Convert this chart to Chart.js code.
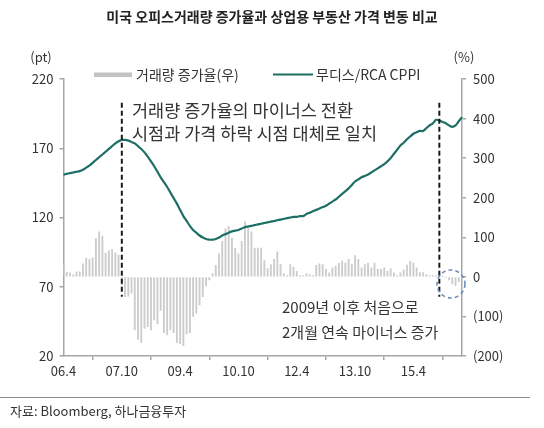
<!DOCTYPE html>
<html>
<head>
<meta charset="utf-8">
<script src="https://cdn.jsdelivr.net/npm/chart.js@4"></script>
<style>
html,body{margin:0;padding:0;background:#fff;}
#wrap{width:544px;height:428px;position:relative;}
</style>
</head>
<body>
<div id="wrap"><canvas id="c"></canvas></div>
<script>
// ---- data ----
const startYear = 2006, startMonth = 4, monthCount = 124;
const months = [];
for (let i = 0; i < monthCount; i++) {
  const m = startMonth - 1 + i;
  const yy = String((startYear + Math.floor(m / 12)) % 100).padStart(2, '0');
  months.push(yy + '.' + (m % 12 + 1));
}
const tickLabels = ['06.4', '07.10', '09.4', '10.10', '12.4', '13.10', '15.4'];

const cppi = [
  151, 151.5, 152, 152.5, 153, 153.5, 154.5,
  156, 157.5, 159.5, 161.5, 163.5,
  165.5, 167.5, 169.5, 171.5, 173.5, 175, 176,
  176, 175.5, 174.5, 173.5, 171.5, 169.5, 167, 164,
  160.5, 157, 153, 149, 145.5, 142,
  138, 134, 130, 125.5, 121,
  117.5, 114, 111, 109, 107, 105.5, 104.5, 104,
  104, 104.5, 105.5, 107,
  108, 109, 110, 110.5, 111, 112, 113, 113.5,
  114, 114.5, 115, 115.5, 116, 116.5, 117,
  117.5, 118, 118.5, 119, 119.5, 120, 120.5, 120.5, 121, 121, 122.5,
  123.5, 124.5, 125.5, 126.5, 127.5, 128.5,
  130, 131.5, 133, 135, 137, 139, 141, 143.5,
  146, 147.5, 149, 150, 151, 152.5,
  154, 155.5, 157, 158.5, 160.5,
  163, 166, 169, 172,
  174, 176.5, 178.5, 180.5,
  181.5, 182.5, 182.5, 184.5, 186.5,
  188, 190.5, 190, 189,
  188, 186.5, 185.5, 186.5, 189.5, 192.5
];

const volumeGrowth = [
  33, 12, 10, 5, 13, 13, 33, 47, 44, 48, 97, 114, 103, 60, 66, 69, 61, 55,
  -20,
  -50, -49, -41, -134, -158, -166, -130, -126, -134, -109, -119, -85, -141,
  -147, -134, -141, -166, -169, -174, -144, -141, -100, -92, -71, -50, -23,
  -8,
  8, 29, 58, 90, 122, 128, 98, 73, 58, 90, 139, 125, 114, 73, 73, 73, 41,
  21, 31, 44, 63, 31, 8, 3, 31, 25, 14, 3, 3, 8, 6, 3, 29, 33,
  31, 19, 10, 23, 27, 34, 40, 35, 44, 31, 54, 44, 23, 31, 35, 23, 35, 19,
  19, 23, 14, 20, 10, 3, 10, 18, 30, 39, 35, 23, 11, 11, 6, 3, 3, 3, 2, 1,
  -2, -8, -18, -22, -12, -4
];

// annotation anchors (category index / axis values)
const markerIdx = [18, 116];
const markerRange = [440, -50];       // right-axis values
const circleAt = {idx: 119.6, val: -18};

const FONT = "'Noto Sans CJK KR', 'Noto Sans', sans-serif";
const TXT = '#333333';
const AXIS = '#a6a6a6';

const deco = {
  id: 'deco',
  afterDatasetsDraw(chart) {
    const ctx = chart.ctx;
    const xs = chart.scales.x, yr = chart.scales.y1;
    ctx.save();
    // dashed markers
    ctx.strokeStyle = '#1a1a1a';
    ctx.lineWidth = 2;
    ctx.setLineDash([5, 3]);
    markerIdx.forEach(i => {
      const x = xs.getPixelForValue(i);
      ctx.beginPath();
      ctx.moveTo(x, yr.getPixelForValue(markerRange[0]));
      ctx.lineTo(x, yr.getPixelForValue(markerRange[1]));
      ctx.stroke();
    });
    // circle
    ctx.strokeStyle = '#6b8fbd';
    ctx.lineWidth = 1.6;
    ctx.setLineDash([4, 3]);
    ctx.beginPath();
    ctx.arc(xs.getPixelForValue(circleAt.idx), yr.getPixelForValue(circleAt.val), 14, 0, Math.PI * 2);
    ctx.stroke();
    ctx.setLineDash([]);
    // annotation texts
    ctx.fillStyle = TXT;
    ctx.textBaseline = 'middle';
    ctx.textAlign = 'left';
    ctx.font = '17.5px ' + FONT;
    ctx.fillText('거래량 증가율의 마이너스 전환', 132, 110);
    ctx.fillText('시점과 가격 하락 시점 대체로 일치', 132, 133);
    ctx.font = '15px ' + FONT;
    ctx.fillText('2009년 이후 처음으로', 282, 307);
    ctx.fillText('2개월 연속 마이너스 증가', 282, 332);
    ctx.restore();
  },
  afterDraw(chart) {
    const ctx = chart.ctx;
    ctx.save();
    ctx.fillStyle = '#222';
    ctx.textBaseline = 'middle';
    ctx.textAlign = 'center';
    ctx.font = 'bold 14px ' + FONT;
    ctx.fillText('미국 오피스거래량 증가율과 상업용 부동산 가격 변동 비교', 272, 17);
    // units
    ctx.fillStyle = TXT;
    ctx.font = '13px ' + FONT;
    ctx.fillText('(pt)', 41, 57);
    ctx.fillText('(%)', 464, 57);
    // legend
    ctx.fillStyle = '#c3c3c3';
    ctx.fillRect(94, 72.5, 38, 4.5);
    ctx.strokeStyle = '#1d6f65';
    ctx.lineWidth = 2.2;
    ctx.beginPath();
    ctx.moveTo(273, 74.5);
    ctx.lineTo(313, 74.5);
    ctx.stroke();
    ctx.fillStyle = TXT;
    ctx.textAlign = 'left';
    ctx.font = '14px ' + FONT;
    ctx.fillText('거래량 증가율(우)', 136, 75);
    ctx.fillText('무디스/RCA CPPI', 316, 75);
    // source
    ctx.strokeStyle = '#8c8c8c';
    ctx.lineWidth = 1;
    ctx.beginPath();
    ctx.moveTo(0, 397.5);
    ctx.lineTo(530, 397.5);
    ctx.stroke();
    ctx.font = '13px ' + FONT;
    ctx.fillStyle = TXT;
    ctx.fillText('자료: Bloomberg, 하나금융투자', 10, 411);
    ctx.restore();
  }
};

new Chart(document.getElementById('c'), {
  data: {
    labels: months,
    datasets: [
      {
        type: 'line',
        label: '무디스/RCA CPPI',
        data: cppi,
        yAxisID: 'y',
        borderColor: '#1d6f65',
        borderWidth: 2.2,
        pointRadius: 0,
        tension: 0.3,
        fill: false,
        order: 1
      },
      {
        type: 'bar',
        label: '거래량 증가율(우)',
        data: volumeGrowth,
        yAxisID: 'y1',
        backgroundColor: '#cccccc',
        barThickness: 1.2,
        order: 2
      }
    ]
  },
  options: {
    responsive: true,
    maintainAspectRatio: false,
    animation: false,
    layout: {padding: {top: 79, left: 0, right: 0, bottom: 0}},
    plugins: {legend: {display: false}, title: {display: false}, tooltip: {enabled: false}},
    scales: {
      x: {
        type: 'category',
        offset: false,
        afterFit(s) { s.height = 72; },
        border: {display: true, color: AXIS, width: 1.5},
        grid: {display: true, drawOnChartArea: false, drawTicks: true, tickLength: 4, color: AXIS, lineWidth: 1.5},
        ticks: {
          autoSkip: false, maxRotation: 0, minRotation: 0, padding: 3,
          color: TXT, font: {family: FONT, size: 13},
          callback(v, i) { const l = months[i]; return tickLabels.includes(l) && i % 18 === 0 ? l : null; }
        }
      },
      y: {
        position: 'left',
        min: 20, max: 220,
        afterFit(s) { s.width = 63.5; },
        border: {display: true, color: AXIS, width: 1.5},
        grid: {display: true, drawOnChartArea: false, drawTicks: true, tickLength: 4, color: AXIS, lineWidth: 1.5},
        ticks: {stepSize: 50, padding: 6, color: TXT, font: {family: FONT, size: 13}}
      },
      y1: {
        position: 'right',
        min: -200, max: 500,
        afterFit(s) { s.width = 82; },
        border: {display: true, color: AXIS, width: 1.5},
        grid: {display: true, drawOnChartArea: false, drawTicks: true, tickLength: 4, color: AXIS, lineWidth: 1.5},
        ticks: {
          stepSize: 100, padding: 7, color: TXT, font: {family: FONT, size: 13},
          callback(v) { return v < 0 ? '(' + (-v) + ')' : String(v); }
        }
      }
    }
  },
  plugins: [deco]
});
</script>
</body>
</html>
